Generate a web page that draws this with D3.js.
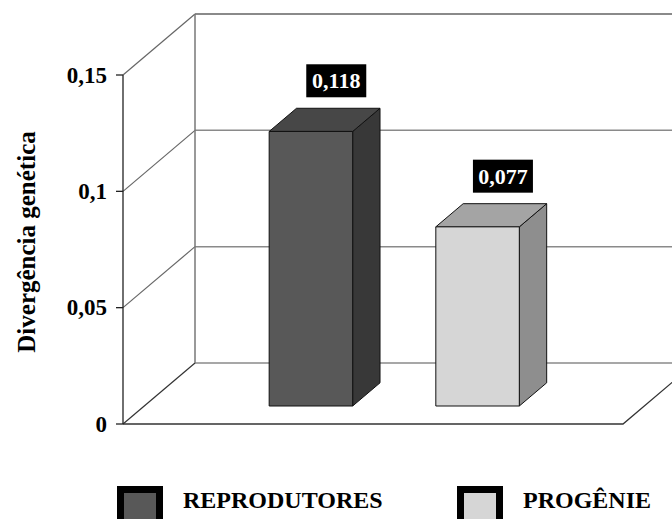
<!DOCTYPE html>
<html>
<head>
<meta charset="utf-8">
<script src="https://cdn.jsdelivr.net/npm/d3@7"></script>
<style>
  html, body { margin: 0; padding: 0; background: #fff; }
  svg { display: block; }
  text { font-family: "Liberation Serif", "Times New Roman", serif; font-weight: bold; }
</style>
</head>
<body>
<svg id="chart" width="672" height="519"></svg>
<script>
// Data
const categories = ["REPRODUTORES", "PROGÊNIE"];
const values = [0.118, 0.077];
const valueLabels = ["0,118", "0,077"];
const yTicks = [0, 0.05, 0.1, 0.15];
const yTickLabels = ["0", "0,05", "0,1", "0,15"];
const frontColors = ["#585858", "#d6d6d6"];
const topColors = ["#474747", "#a4a4a4"];
const sideColors = ["#383838", "#8e8e8e"];

const svg = d3.select("#chart");

// Front plane scales
const left = 123, right = 623;
const y = d3.scaleLinear().domain([0, 0.15]).range([424, 75]);
const x = d3.scalePoint().domain(categories).range([left, right]).padding(1);
const barWidth = 83.5;

// Oblique depth projection: z = 0 front, z = 1 back wall
const DX = 72, DY = -61;
const proj = (px, py, z) => [px + DX * z, py + DY * z];
const zFront = 0.295, zBack = 0.675;

const line = d3.line();
const g = svg.append("g");

// Back wall gridlines
g.selectAll(".grid-back").data(yTicks).join("path")
  .attr("d", t => line([proj(left, y(t), 1), proj(right, y(t), 1)]))
  .attr("stroke", "#8a8a8a").attr("stroke-width", t => t === 0.15 ? 2 : 1.5).attr("fill", "none");

// Side wall gridlines (left wall)
g.selectAll(".grid-side").data(yTicks).join("path")
  .attr("d", t => line([[left, y(t)], proj(left, y(t), 1)]))
  .attr("stroke", t => t === 0 ? "#333" : "#666").attr("stroke-width", 1.2).attr("fill", "none");

// Back wall left edge
g.append("path")
  .attr("d", line([proj(left, y(0.15), 1), proj(left, y(0), 1)]))
  .attr("stroke", "#777").attr("stroke-width", 1.5).attr("fill", "none");

// Floor front edge and right diagonal
g.append("path")
  .attr("d", line([[left, y(0)], [right, y(0)], proj(right, y(0), 1)]))
  .attr("stroke", "#333").attr("stroke-width", 1.3).attr("fill", "none");

// Value axis
g.append("path")
  .attr("d", line([[left, y(0.15)], [left, y(0)]]))
  .attr("stroke", "#222").attr("stroke-width", 1.3).attr("fill", "none");
g.selectAll(".tick").data(yTicks).join("path")
  .attr("d", t => line([[left - 7, y(t)], [left, y(t)]]))
  .attr("stroke", "#222").attr("stroke-width", 1.3);
g.selectAll(".tick-label").data(yTicks).join("text")
  .attr("x", 107).attr("y", t => y(t))
  .attr("dy", "0.33em")
  .attr("text-anchor", "end")
  .attr("font-size", 23)
  .attr("fill", "#000")
  .text((t, i) => yTickLabels[i]);

// Axis title
svg.append("text")
  .attr("transform", "translate(35,242) rotate(-90)")
  .attr("text-anchor", "middle")
  .attr("font-size", 25)
  .attr("fill", "#000")
  .text("Divergência genética");

// Bars
const bars = g.selectAll(".bar").data(categories).join("g");
bars.each(function (c, i) {
  const sel = d3.select(this);
  const x0 = x(c) - barWidth / 2, x1 = x(c) + barWidth / 2;
  const yt = y(values[i]), yb = y(0);
  const flt = proj(x0, yt, zFront), frt = proj(x1, yt, zFront);
  const flb = proj(x0, yb, zFront), frb = proj(x1, yb, zFront);
  const blt = proj(x0, yt, zBack), brt = proj(x1, yt, zBack);
  const brb = proj(x1, yb, zBack);
  const poly = pts => line(pts) + "Z";
  sel.append("path").attr("d", poly([frt, brt, brb, frb]))
    .attr("fill", sideColors[i]).attr("stroke", "#111").attr("stroke-width", 1);
  sel.append("path").attr("d", poly([flt, frt, brt, blt]))
    .attr("fill", topColors[i]).attr("stroke", "#111").attr("stroke-width", 1);
  sel.append("path").attr("d", poly([flt, frt, frb, flb]))
    .attr("fill", frontColors[i]).attr("stroke", "#111").attr("stroke-width", 1);

  // Value label
  const cx = (blt[0] + brt[0]) / 2 - 2;
  const boxW = 60, boxH = 33;
  const boxBottom = blt[1] - 11;
  sel.append("rect")
    .attr("x", cx - boxW / 2).attr("y", boxBottom - boxH)
    .attr("width", boxW).attr("height", boxH)
    .attr("fill", "#000");
  sel.append("text")
    .attr("x", cx).attr("y", boxBottom - boxH / 2)
    .attr("dy", "0.35em")
    .attr("text-anchor", "middle")
    .attr("font-size", 22)
    .attr("fill", "#fff")
    .text(valueLabels[i]);
});

// Legend
const legendX = [117, 457];
const legend = svg.selectAll(".legend").data(categories).join("g")
  .attr("transform", (c, i) => `translate(${legendX[i]},486)`);
legend.append("rect")
  .attr("x", 3.5).attr("y", 3.5).attr("width", 39).attr("height", 39)
  .attr("fill", (c, i) => frontColors[i])
  .attr("stroke", "#000").attr("stroke-width", 7);
legend.append("text")
  .attr("x", 66).attr("y", 22)
  .attr("font-size", 24)
  .attr("fill", "#000")
  .text(c => c);
</script>
</body>
</html>
